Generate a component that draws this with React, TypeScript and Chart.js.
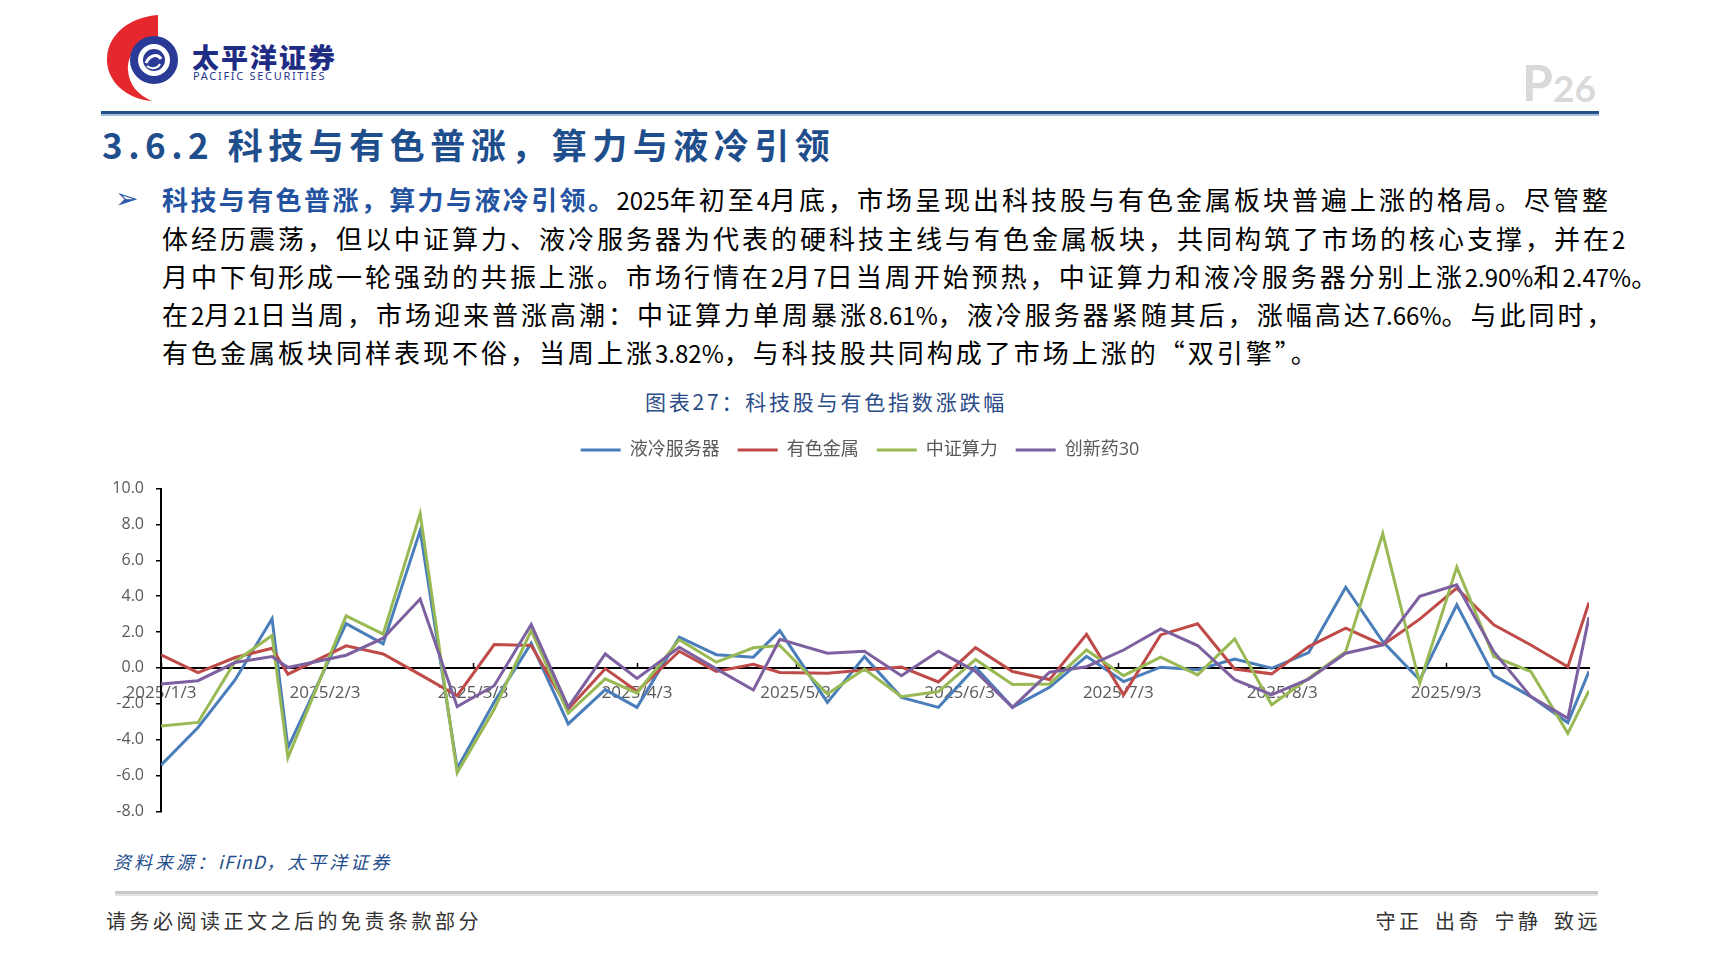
import React, { useEffect, useRef } from "react";
import { Chart, registerables } from "chart.js";

Chart.register(...registerables);

// ---------- DATA ----------
const dates = [
  "2025-01-03", "2025-01-10", "2025-01-17", "2025-01-24", "2025-01-27",
  "2025-02-07", "2025-02-14", "2025-02-21", "2025-02-28", "2025-03-07",
  "2025-03-14", "2025-03-21", "2025-03-28", "2025-04-03", "2025-04-11",
  "2025-04-18", "2025-04-25", "2025-04-30", "2025-05-09", "2025-05-16",
  "2025-05-23", "2025-05-30", "2025-06-06", "2025-06-13", "2025-06-20",
  "2025-06-27", "2025-07-04", "2025-07-11", "2025-07-18", "2025-07-25",
  "2025-08-01", "2025-08-08", "2025-08-15", "2025-08-22", "2025-08-29",
  "2025-09-05", "2025-09-12", "2025-09-19", "2025-09-26", "2025-09-30",
];

const xTickLabels = [
  "2025/1/3", "2025/2/3", "2025/3/3", "2025/4/3", "2025/5/3",
  "2025/6/3", "2025/7/3", "2025/8/3", "2025/9/3",
];

const yMin = -8;
const yMax = 10;
const yStep = 2;

const seriesNames = ["液冷服务器", "有色金属", "中证算力", "创新药30"];
const seriesColors = ["#4A7EBB", "#BE4B48", "#98B954", "#7D60A0"];

const liquidCooling = [
  -5.42, -3.32, -0.67, 2.74, -4.44, 2.47, 1.34, 7.66, -5.61, -1.9,
  1.38, -3.12, -1.21, -2.2, 1.71, 0.74, 0.6, 2.08, -1.92, 0.63,
  -1.64, -2.2, 0.04, -2.2, -1.08, 0.65, -0.76, 0.04, -0.1, 0.5,
  -0.02, 0.86, 4.5, 1.47, -0.67, 3.52, -0.43, -1.6, -3.05, -0.19,
];
const nonferrous = [
  0.73, -0.26, 0.58, 1.1, -0.35, 1.23, 0.78, -0.37, -1.55, 1.3,
  1.25, -2.29, -0.04, -1.3, 0.93, -0.2, 0.2, -0.25, -0.3, -0.12,
  0.05, -0.78, 1.13, -0.2, -0.65, 1.87, -1.5, 1.84, 2.46, -0.06,
  -0.33, 1.19, 2.22, 1.28, 2.72, 4.45, 2.4, 1.28, 0.07, 3.65,
];
const computing = [
  -3.24, -3.04, 0.35, 1.81, -5.0, 2.9, 1.88, 8.61, -5.85, -2.3,
  2.08, -2.53, -0.61, -1.4, 1.58, 0.32, 1.12, 1.25, -1.45, -0.06,
  -1.6, -1.32, 0.47, -0.93, -0.89, 1.0, -0.43, 0.6, -0.39, 1.62,
  -2.05, -0.58, 0.91, 7.49, -0.86, 5.62, 0.63, -0.2, -3.65, -1.27,
];
const innovativeDrug30 = [
  -0.89, -0.71, 0.3, 0.63, 0.02, 0.71, 1.66, 3.84, -2.16, -0.99,
  2.42, -2.19, 0.78, -0.58, 1.15, -0.05, -1.23, 1.6, 0.82, 0.93,
  -0.43, 0.93, -0.19, -2.2, -0.24, 0.07, 1.0, 2.18, 1.25, -0.65,
  -1.49, -0.63, 0.82, 1.28, 3.99, 4.64, 0.91, -1.6, -2.81, 2.83,
];

// ---------- helpers ----------
const DAY_MS = 86400000;
const toUTC = (s: string) => {
  const [y, m, d] = s.split(/[-/]/).map(Number);
  return Date.UTC(y, m - 1, d);
};
const baseUTC = toUTC(dates[0]);
const dayOf = (s: string) => (toUTC(s) - baseUTC) / DAY_MS;

const CHART_FONT = "'Open Sans', 'Noto Sans CJK SC', sans-serif";
const CJK = "'Noto Sans CJK SC', sans-serif";

const legendSpacer = {
  id: "legendSpacer",
  beforeInit(chart: any) {
    const legend = chart.legend;
    if (!legend) return;
    const origFit = legend.fit;
    legend.fit = function () {
      origFit.call(this);
      this.height += 19.6;
    };
  },
  afterLayout(chart: any) {
    if (chart.legend) chart.legend.left += 31;
  },
};

const xTickMarks = {
  id: "xTickMarks",
  beforeDatasetsDraw(chart: any) {
    const xs = chart.scales.x;
    const ys = chart.scales.y;
    const ctx = chart.ctx;
    const y0 = ys.getPixelForValue(0);
    ctx.save();
    ctx.strokeStyle = "#000";
    ctx.lineWidth = 1.5;
    xs.ticks.forEach((t: any) => {
      const px = Math.round(xs.getPixelForValue(t.value)) + 0.5;
      ctx.beginPath();
      ctx.moveTo(px, y0);
      ctx.lineTo(px, y0 - 5);
      ctx.stroke();
    });
    ctx.restore();
  },
};

function LineChart() {
  const ref = useRef<HTMLCanvasElement>(null);
  useEffect(() => {
    const canvas = ref.current;
    if (!canvas) return;
    const allValues = [liquidCooling, nonferrous, computing, innovativeDrug30];
    const xs = dates.map(dayOf);
    const tickDays = xTickLabels.map(dayOf);
    const chart = new Chart(canvas, {
      type: "line",
      data: {
        datasets: allValues.map((arr, k) => ({
          label: seriesNames[k],
          data: arr.map((v, i) => ({ x: xs[i], y: v })),
          borderColor: seriesColors[k],
          backgroundColor: seriesColors[k],
          borderWidth: 3,
          pointRadius: 0,
          pointHoverRadius: 0,
          tension: 0,
          fill: false,
          borderJoinStyle: "miter",
          order: allValues.length - 1 - k,
        })),
      },
      options: {
        animation: false,
        responsive: false,
        maintainAspectRatio: false,
        events: [],
        layout: { padding: { top: 5, right: 5, bottom: 0, left: 0 } },
        plugins: {
          tooltip: { enabled: false },
          legend: {
            display: true,
            position: "top",
            align: "center",
            labels: {
              usePointStyle: true,
              pointStyle: "line",
              pointStyleWidth: 40,
              padding: 18,
              color: "#595959",
              font: { size: 18, family: CHART_FONT },
              sort: (a: any, b: any) => a.datasetIndex - b.datasetIndex,
            },
          },
        },
        scales: {
          x: {
            type: "linear",
            position: { y: 0 },
            min: 0,
            max: dayOf(dates[dates.length - 1]),
            afterBuildTicks: (axis: any) => {
              axis.ticks = tickDays.map((v) => ({ value: v }));
            },
            grid: { display: false, drawTicks: false },
            border: { display: true, color: "#000", width: 2 },
            ticks: {
              autoSkip: false,
              maxRotation: 0,
              minRotation: 0,
              padding: 14.8,
              color: "#595959",
              font: { size: 17, family: CHART_FONT },
              callback: (_v: any, i: number) => xTickLabels[i],
            },
          },
          y: {
            min: yMin,
            max: yMax,
            afterFit: (s: any) => {
              s.width = 61;
            },
            grid: {
              display: true,
              drawOnChartArea: false,
              drawTicks: true,
              tickLength: 5,
              color: "#000",
              lineWidth: 1.5,
            },
            border: { display: true, color: "#000", width: 2 },
            ticks: {
              stepSize: yStep,
              padding: 12,
              color: "#595959",
              font: { size: 16, family: CHART_FONT },
              callback: (v: any) => Number(v).toFixed(1),
            },
          },
        },
      },
      plugins: [legendSpacer, xTickMarks],
    } as any);
    return () => chart.destroy();
  }, []);
  return (
    <canvas
      ref={ref}
      width={1494}
      height={415}
      style={{ position: "absolute", left: 100, top: 418, width: 1494, height: 415 }}
    />
  );
}

function Logo() {
  return (
    <svg
      width={100}
      height={95}
      viewBox="0 0 100 95"
      style={{ position: "absolute", left: 100, top: 10 }}
    >
      <path
        d="M 58 5 L 58 27 C 38 32, 27 45, 28 60 C 29 75, 38 85, 52 91 C 25 89, 6 70, 7 48 C 8 24, 30 7, 58 5 Z"
        fill="#E5282D"
      />
      <circle cx={54} cy={50} r={20} fill="none" stroke="#2B3A96" strokeWidth={8} />
      <circle cx={54} cy={50} r={11} fill="#2B3A96" />
      <path d="M 46 53 C 50 44, 58 44, 61 49" fill="none" stroke="#fff" strokeWidth={3} />
      <path d="M 47 56 C 52 60, 58 58, 60 54" fill="none" stroke="#fff" strokeWidth={2} />
    </svg>
  );
}

// Latin/digit runs get no extra tracking, CJK keeps the wide tracking
function mixed(text: string) {
  const parts = text.split(/([0-9A-Za-z.%]+)/);
  return parts.map((p, i) =>
    /^[0-9A-Za-z.%]+$/.test(p) ? (
      <span key={i} style={{ letterSpacing: "0px", fontSize: 24 }}>
        {p}
      </span>
    ) : (
      <React.Fragment key={i}>{p}</React.Fragment>
    )
  );
}

const lineTop = (i: number) => 180.2 + i * 38.3;

export default function App() {
  const bodyStyle: React.CSSProperties = {
    position: "absolute",
    left: 162,
    fontSize: 26,
    lineHeight: "38.3px",
    letterSpacing: "3px",
    whiteSpace: "nowrap",
    color: "#000",
    fontFamily: CJK,
  };
  return (
    <div
      style={{
        position: "absolute",
        left: 0,
        top: 0,
        width: 1714,
        height: 965,
        background: "#fff",
        overflow: "hidden",
      }}
    >
      <Logo />
      <div
        style={{
          position: "absolute",
          left: 192,
          top: 43,
          fontSize: 27,
          lineHeight: "27px",
          fontWeight: 900,
          letterSpacing: "2px",
          color: "#1E2D83",
          fontFamily: CJK,
          whiteSpace: "nowrap",
        }}
      >
        太平洋证券
      </div>
      <div
        style={{
          position: "absolute",
          left: 193,
          top: 70,
          fontSize: 11,
          lineHeight: "11px",
          fontWeight: 400,
          letterSpacing: "1.7px",
          color: "#27358F",
          fontFamily: "'Noto Sans', sans-serif",
          whiteSpace: "nowrap",
        }}
      >
        PACIFIC SECURITIES
      </div>

      <div
        style={{
          position: "absolute",
          left: 1522,
          top: 57,
          fontSize: 50,
          lineHeight: "50px",
          fontWeight: 700,
          color: "#D9D9D9",
          fontFamily: "Lato, sans-serif",
        }}
      >
        P
      </div>
      <div
        style={{
          position: "absolute",
          left: 1553,
          top: 69,
          fontSize: 37,
          lineHeight: "37px",
          fontWeight: 700,
          color: "#D9D9D9",
          fontFamily: "Lato, sans-serif",
        }}
      >
        26
      </div>

      <div style={{ position: "absolute", left: 101, top: 111, width: 1498, height: 3, background: "#24508E" }} />
      <div style={{ position: "absolute", left: 101, top: 114, width: 1498, height: 2, background: "#A6BCDB" }} />

      <div
        style={{
          position: "absolute",
          left: 102,
          top: 125.5,
          fontSize: 35,
          lineHeight: "35px",
          fontWeight: 700,
          letterSpacing: "5.5px",
          color: "#1F4E8C",
          fontFamily: CJK,
          whiteSpace: "nowrap",
        }}
      >
        3.6.2 科技与有色普涨，算力与液冷引领
      </div>

      <div
        style={{
          position: "absolute",
          left: 115,
          top: lineTop(0),
          fontSize: 28,
          lineHeight: "38.3px",
          color: "#2E5AAC",
          fontFamily: "'DejaVu Sans', sans-serif",
        }}
      >
        ➢
      </div>
      <div style={{ ...bodyStyle, top: lineTop(0) }}>
        <span style={{ color: "#2352A0", fontWeight: 700, letterSpacing: "2.4px" }}>
          科技与有色普涨，算力与液冷引领。
        </span>
        {mixed("2025年初至4月底，市场呈现出科技股与有色金属板块普遍上涨的格局。尽管整")}
      </div>
      <div style={{ ...bodyStyle, top: lineTop(1) }}>
        {mixed("体经历震荡，但以中证算力、液冷服务器为代表的硬科技主线与有色金属板块，共同构筑了市场的核心支撑，并在2")}
      </div>
      <div style={{ ...bodyStyle, top: lineTop(2) }}>
        {mixed("月中下旬形成一轮强劲的共振上涨。市场行情在2月7日当周开始预热，中证算力和液冷服务器分别上涨2.90%和2.47%。")}
      </div>
      <div style={{ ...bodyStyle, top: lineTop(3) }}>
        {mixed("在2月21日当周，市场迎来普涨高潮：中证算力单周暴涨8.61%，液冷服务器紧随其后，涨幅高达7.66%。与此同时，")}
      </div>
      <div style={{ ...bodyStyle, top: lineTop(4) }}>
        {mixed("有色金属板块同样表现不俗，当周上涨3.82%，与科技股共同构成了市场上涨的“双引擎”。")}
      </div>

      <div
        style={{
          position: "absolute",
          left: 826,
          top: 388,
          transform: "translateX(-50%)",
          fontSize: 21,
          lineHeight: "26px",
          letterSpacing: "2.8px",
          color: "#2B4C87",
          fontFamily: CJK,
          whiteSpace: "nowrap",
        }}
      >
        图表27：科技股与有色指数涨跌幅
      </div>

      <LineChart />

      <div
        style={{
          position: "absolute",
          left: 113,
          top: 849,
          fontSize: 18,
          lineHeight: "24px",
          letterSpacing: "3px",
          fontStyle: "italic",
          color: "#1F4E8C",
          fontFamily: CJK,
          whiteSpace: "nowrap",
        }}
      >
        资料来源：<span style={{ letterSpacing: "1px" }}>iFinD</span>，太平洋证券
      </div>

      <div style={{ position: "absolute", left: 115, top: 891, width: 1483, height: 3, background: "#C8C8C8" }} />
      <div style={{ position: "absolute", left: 115, top: 894, width: 1483, height: 2, background: "#E4E4E4" }} />

      <div
        style={{
          position: "absolute",
          left: 106,
          top: 908,
          fontSize: 20,
          lineHeight: "26px",
          letterSpacing: "3.5px",
          color: "#333",
          fontFamily: CJK,
          whiteSpace: "nowrap",
        }}
      >
        请务必阅读正文之后的免责条款部分
      </div>
      <div
        style={{
          position: "absolute",
          right: 1714 - 1601,
          top: 908,
          fontSize: 20,
          lineHeight: "26px",
          letterSpacing: "3.5px",
          wordSpacing: "4.5px",
          color: "#333",
          fontFamily: CJK,
          whiteSpace: "pre",
        }}
      >
        守正 出奇 宁静 致远
      </div>
    </div>
  );
}
